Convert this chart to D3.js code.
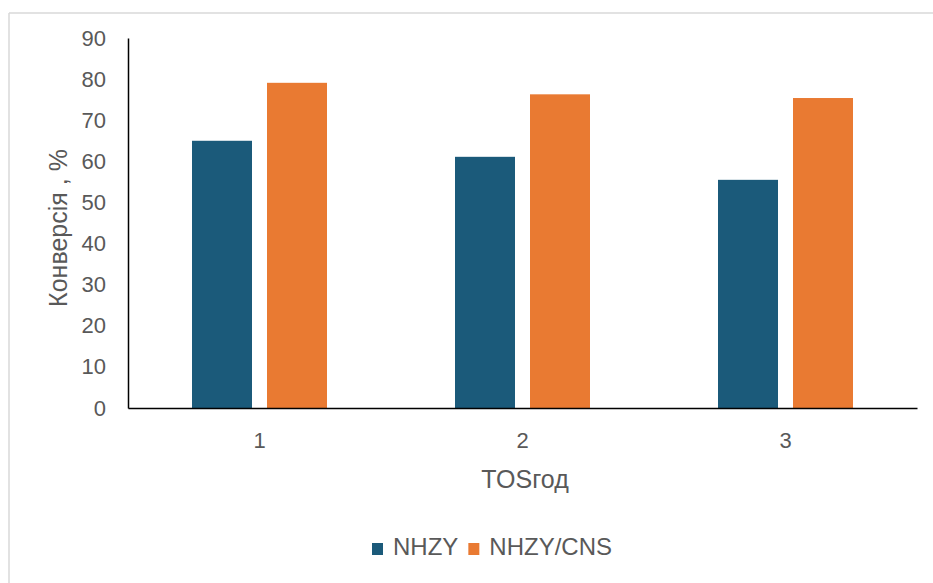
<!DOCTYPE html>
<html>
<head>
<meta charset="utf-8">
<script src="https://cdn.jsdelivr.net/npm/d3@7"></script>
<style>
  html, body { margin: 0; padding: 0; background: #fff; }
  svg { display: block; }
  text { font-family: "Liberation Sans", Arial, sans-serif; }
</style>
</head>
<body>
<svg id="chart" width="933" height="583"></svg>
<script>
// Conversion by time on stream for the two catalysts
const categories = ["1", "2", "3"];
const seriesNames = ["NHZY", "NHZY/CNS"];
const nhzy = [65.0, 61.1, 55.5];
const nhzyCns = [79.1, 76.3, 75.4];
const yTicks = [0, 10, 20, 30, 40, 50, 60, 70, 80, 90];
const colors = ["#1b5a7a", "#e97a32"];

const svg = d3.select("#chart");
const W = 933, H = 583;
const plot = { left: 128, right: 917, top: 38, bottom: 408 };

// outer frame (top and left edges)
svg.append("line").attr("x1", 9).attr("x2", W).attr("y1", 13).attr("y2", 13)
  .attr("stroke", "#d9d9d9").attr("stroke-width", 1.5);
svg.append("line").attr("x1", 9).attr("x2", 9).attr("y1", 13).attr("y2", H)
  .attr("stroke", "#d9d9d9").attr("stroke-width", 1.5);

const x = d3.scaleBand().domain(categories).range([plot.left, plot.right]).padding(0);
const y = d3.scaleLinear().domain([0, 90]).range([plot.bottom, plot.top]);

const rows = categories.map((c, i) => ({ cat: c, values: [nhzy[i], nhzyCns[i]] }));

// bar geometry within each category band
const barW = 60, innerGap = 15;
const offsetX = (j) => x.bandwidth() / 2 - (barW * 2 + innerGap) / 2 + j * (barW + innerGap);

const g = svg.append("g");
rows.forEach(r => {
  r.values.forEach((v, j) => {
    g.append("rect")
      .attr("x", x(r.cat) + offsetX(j))
      .attr("y", y(v))
      .attr("width", barW)
      .attr("height", y(0) - y(v))
      .attr("fill", colors[j]);
  });
});

// y axis
const yAxis = svg.append("g").attr("transform", `translate(${plot.left},0)`)
  .call(d3.axisLeft(y).tickValues(yTicks).tickSize(0).tickPadding(22));
yAxis.select(".domain").attr("stroke", "#000").attr("stroke-width", 1.5);
yAxis.selectAll("text").attr("fill", "#595959").style("font-size", "22px");

// x axis
const xAxis = svg.append("g").attr("transform", `translate(0,${plot.bottom})`)
  .call(d3.axisBottom(x).tickSize(0).tickPadding(24));
xAxis.select(".domain").attr("stroke", "#000").attr("stroke-width", 1.5);
xAxis.selectAll("text").attr("fill", "#595959").style("font-size", "22px");

// axis titles
svg.append("text")
  .attr("transform", `translate(67,228) rotate(-90)`)
  .attr("text-anchor", "middle")
  .attr("fill", "#595959")
  .style("font-size", "25px")
  .text("Конверсія , %");

svg.append("text")
  .attr("x", 525).attr("y", 488)
  .attr("text-anchor", "middle")
  .attr("fill", "#595959")
  .style("font-size", "25px")
  .text("TOSгод");

// legend
const legend = svg.append("g").attr("transform", "translate(372,555)");
let lx = 0;
seriesNames.forEach((name, j) => {
  legend.append("rect").attr("x", lx).attr("y", -12).attr("width", 11).attr("height", 12)
    .attr("fill", colors[j]);
  const t = legend.append("text").attr("x", lx + 21).attr("y", 0)
    .attr("fill", "#595959").style("font-size", "24px").text(name);
  lx += 21 + t.node().getComputedTextLength() + 10;
});
</script>
</body>
</html>
